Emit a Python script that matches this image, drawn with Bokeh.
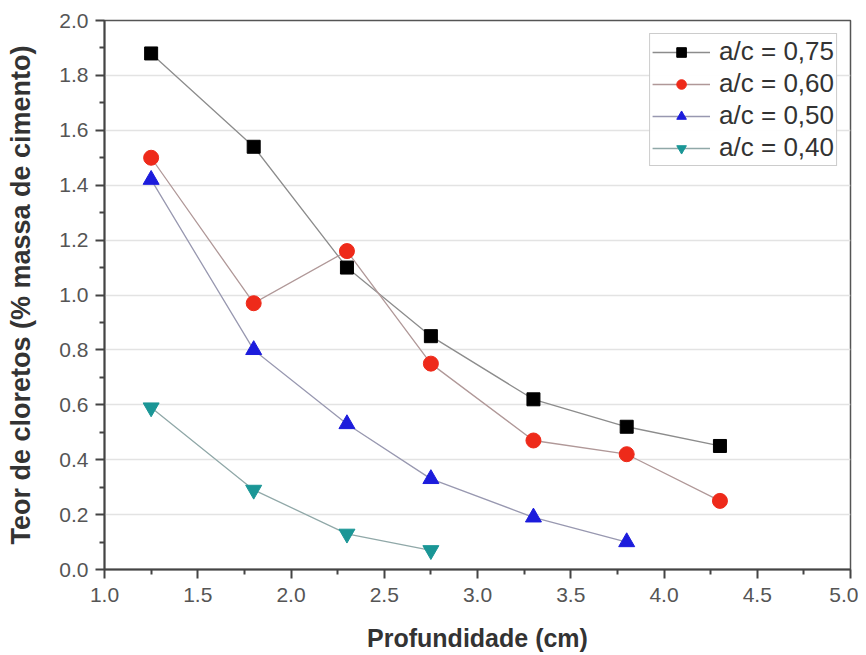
from bokeh.plotting import figure
from bokeh.embed import file_html
from bokeh.resources import INLINE
from bokeh.models import Legend, LegendItem, FixedTicker, Range1d

x_075 = [1.25, 1.8, 2.3, 2.75, 3.3, 3.8, 4.3]
y_075 = [1.88, 1.54, 1.10, 0.85, 0.62, 0.52, 0.45]
x_060 = [1.25, 1.8, 2.3, 2.75, 3.3, 3.8, 4.3]
y_060 = [1.50, 0.97, 1.16, 0.75, 0.47, 0.42, 0.25]
x_050 = [1.25, 1.8, 2.3, 2.75, 3.3, 3.8]
y_050 = [1.42, 0.80, 0.53, 0.33, 0.19, 0.10]
x_040 = [1.25, 1.8, 2.3, 2.75]
y_040 = [0.59, 0.29, 0.13, 0.07]
labels = ["a/c = 0,75", "a/c = 0,60", "a/c = 0,50", "a/c = 0,40"]
x_ticks = [1.0, 1.5, 2.0, 2.5, 3.0, 3.5, 4.0, 4.5, 5.0]
y_ticks = [0.0, 0.2, 0.4, 0.6, 0.8, 1.0, 1.2, 1.4, 1.6, 1.8, 2.0]

FONT = "Liberation Sans"

p = figure(width=858, height=654, output_backend="svg", toolbar_location=None,
           x_range=Range1d(1.0, 5.0), y_range=Range1d(0.0, 2.0),
           min_border_left=104, min_border_top=20, min_border_right=8, min_border_bottom=84)
p.outline_line_color = "#555555"
p.outline_line_width = 1.5
p.xgrid.grid_line_color = None
p.ygrid.grid_line_color = "#e3e3e3"
p.ygrid.grid_line_width = 1.5

p.xaxis.ticker = FixedTicker(ticks=x_ticks, minor_ticks=[1.25 + 0.5 * i for i in range(8)])
p.yaxis.ticker = FixedTicker(ticks=y_ticks, minor_ticks=[0.1 + 0.2 * i for i in range(10)])
p.xaxis.major_label_overrides = {v: f"{v:.1f}" for v in x_ticks}
p.yaxis.major_label_overrides = {v: f"{v:.1f}" for v in y_ticks}

for ax in (p.xaxis, p.yaxis):
    ax.axis_line_color = "#444444"
    ax.axis_line_width = 2
    ax.major_tick_line_color = "#444444"
    ax.major_tick_line_width = 2
    ax.minor_tick_line_color = "#444444"
    ax.minor_tick_line_width = 2
    ax.major_tick_out = 9
    ax.major_tick_in = 0
    ax.minor_tick_out = 5
    ax.minor_tick_in = 0
    ax.major_label_text_font = FONT
    ax.major_label_text_font_size = "21px"
    ax.major_label_text_color = "#555555"
    ax.axis_label_text_font = FONT
    ax.axis_label_text_font_style = "bold"
    ax.axis_label_text_color = "#333333"

p.xaxis.axis_label = "Profundidade (cm)"
p.yaxis.axis_label = "Teor de cloretos (% massa de cimento)"
p.xaxis.axis_label_text_font_size = "25px"
p.yaxis.axis_label_text_font_size = "27px"
p.xaxis.major_label_standoff = 9
p.yaxis.major_label_standoff = 7
p.xaxis.axis_label_standoff = 19
p.yaxis.axis_label_standoff = 20

series = [
    (x_075, y_075, "square", "#000000", "#8c8c8c", 13),
    (x_060, y_060, "circle", "#ee2a1a", "#b09898", 15),
    (x_050, y_050, "triangle", "#1c1cdc", "#9898b0", 16),
    (x_040, y_040, "inverted_triangle", "#1a9696", "#90a8a8", 16),
]
items = []
for (xs, ys, mk, col, lcol, sz), lab in zip(series, labels):
    l = p.line(xs, ys, line_color=lcol, line_width=1.3)
    s = p.scatter(xs, ys, marker=mk, size=sz, fill_color=col, line_color=col)
    items.append(LegendItem(label=lab, renderers=[l, s]))

legend = Legend(items=items, location="top_right")
legend.label_text_font = FONT
legend.label_text_font_size = "26px"
legend.label_text_color = "#333333"
legend.glyph_width = 58
legend.glyph_height = 24
legend.label_height = 24
legend.label_standoff = 9
legend.spacing = 1
legend.padding = 2
legend.margin = 13
legend.border_line_color = "#999999"
legend.border_line_width = 1.5
p.add_layout(legend)

open("out.html", "w").write(file_html(p, INLINE))
